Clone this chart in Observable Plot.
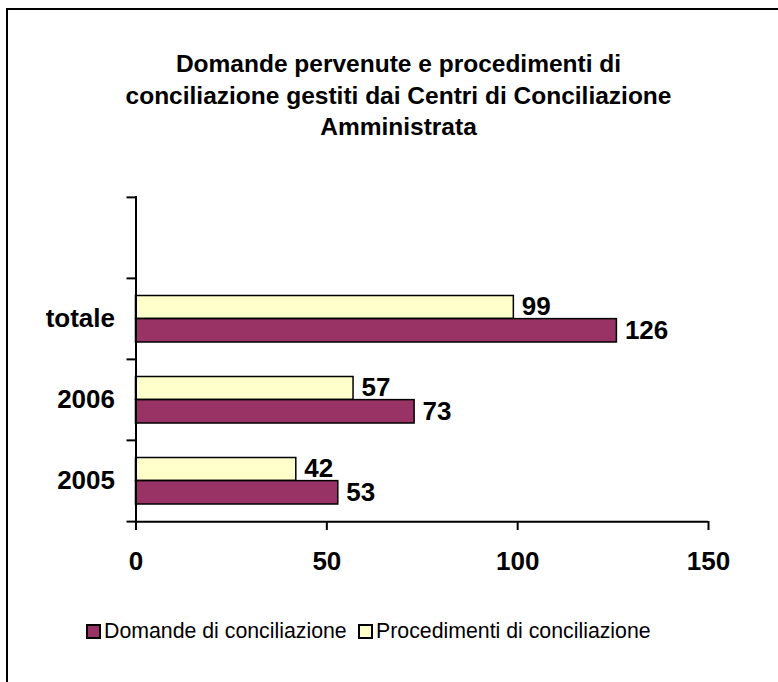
<!DOCTYPE html>
<html>
<head>
<meta charset="utf-8">
<script src="https://cdn.jsdelivr.net/npm/d3@7"></script>
<script src="https://cdn.jsdelivr.net/npm/@observablehq/plot@0.6"></script>
<style>
  html, body { margin: 0; padding: 0; background: #fff; }
  body { width: 778px; height: 682px; position: relative; overflow: hidden; font-family: "Liberation Sans", Arial, sans-serif; }
  #frame { position: absolute; left: 6px; top: 8px; width: 800px; height: 700px; border: 2px solid #000; box-sizing: border-box; }
  #title { position: absolute; left: 0; top: 48px; width: 797px; text-align: center; font-weight: bold; font-size: 24.5px; line-height: 31.5px; color: #000; }
  #chart { position: absolute; left: 0; top: 180px; }
  .leg { position: absolute; top: 619px; display: flex; align-items: center; font-size: 21.3px; color: #000; white-space: nowrap; }
  .sw { width: 11px; height: 11px; border: 2px solid #000; margin-right: 3px; }
</style>
</head>
<body>
<div id="frame"></div>
<div id="title">Domande pervenute e procedimenti di<br>conciliazione gestiti dai Centri di Conciliazione<br>Amministrata</div>
<div id="chart"></div>
<div class="leg" id="leg1"></div>
<div class="leg" id="leg2"></div>
<script>
const categories = ["2005", "2006", "totale"];
const domande = [53, 73, 126];
const procedimenti = [42, 57, 99];
const seriesNames = ["Domande di conciliazione", "Procedimenti di conciliazione"];
const seriesColors = ["#993366", "#FFFFCC"];
const xTicks = [0, 50, 100, 150];

const rows = [];
categories.forEach((c, i) => {
  rows.push({cat: c, series: seriesNames[0], value: domande[i]});
  rows.push({cat: c, series: seriesNames[1], value: procedimenti[i]});
});
const yDomain = [" "].concat(categories.slice().reverse());

const W = 778, H = 400, mt = 16, mb = 59, ml = 135.5, mr = 70;
const band = (H - mt - mb) / yDomain.length;
const LF = 26;

const chart = Plot.plot({
  width: W, height: H,
  marginTop: mt, marginBottom: mb, marginLeft: ml, marginRight: mr,
  x: {domain: [0, 150], label: null},
  y: {domain: yDomain, padding: 0, label: null},
  style: {fontFamily: "'Liberation Sans', Arial, sans-serif", color: "#000", background: "transparent", overflow: "visible"},
  marks: [
    Plot.barX(rows.filter(d => d.series === seriesNames[1]), {
      x: "value", y: "cat", fill: seriesColors[1], stroke: "#000", strokeWidth: 1.5,
      insetTop: 17.5, insetBottom: band / 2
    }),
    Plot.barX(rows.filter(d => d.series === seriesNames[0]), {
      x: "value", y: "cat", fill: seriesColors[0], stroke: "#000", strokeWidth: 1.5,
      insetTop: band / 2, insetBottom: 17
    }),
    Plot.text(rows.filter(d => d.series === seriesNames[1]), {
      x: "value", y: "cat", text: d => String(d.value), textAnchor: "start",
      dx: 8, dy: -12, fontSize: LF, fontWeight: "bold", fill: "#000"
    }),
    Plot.text(rows.filter(d => d.series === seriesNames[0]), {
      x: "value", y: "cat", text: d => String(d.value), textAnchor: "start",
      dx: 8, dy: 12, fontSize: LF, fontWeight: "bold", fill: "#000"
    }),
    Plot.ruleX([0], {stroke: "#000", strokeWidth: 2}),
    Plot.ruleY([categories[0]], {stroke: "#000", strokeWidth: 2, dy: band / 2}),
    Plot.axisY({ticks: yDomain, tickSize: 9, dy: -band / 2, tickFormat: () => "", strokeWidth: 2}),
    Plot.axisY({ticks: [categories[0]], tickSize: 9, dy: band / 2, tickFormat: () => "", strokeWidth: 2}),
    Plot.axisY({ticks: categories, tickSize: 0, tickPadding: 21, fontSize: LF, fontWeight: "bold"}),
    Plot.axisX({ticks: xTicks, tickSize: 9, tickPadding: 21, fontSize: LF, fontWeight: "bold", strokeWidth: 2})
  ]
});
document.getElementById("chart").appendChild(chart);

const leg1 = document.getElementById("leg1");
const leg2 = document.getElementById("leg2");
leg1.style.left = "86px";
leg2.style.left = "358px";
[leg1, leg2].forEach((el, i) => {
  const sw = document.createElement("span");
  sw.className = "sw";
  sw.style.background = seriesColors[i];
  el.appendChild(sw);
  const t = document.createElement("span");
  t.textContent = seriesNames[i];
  el.appendChild(t);
});
</script>
</body>
</html>
